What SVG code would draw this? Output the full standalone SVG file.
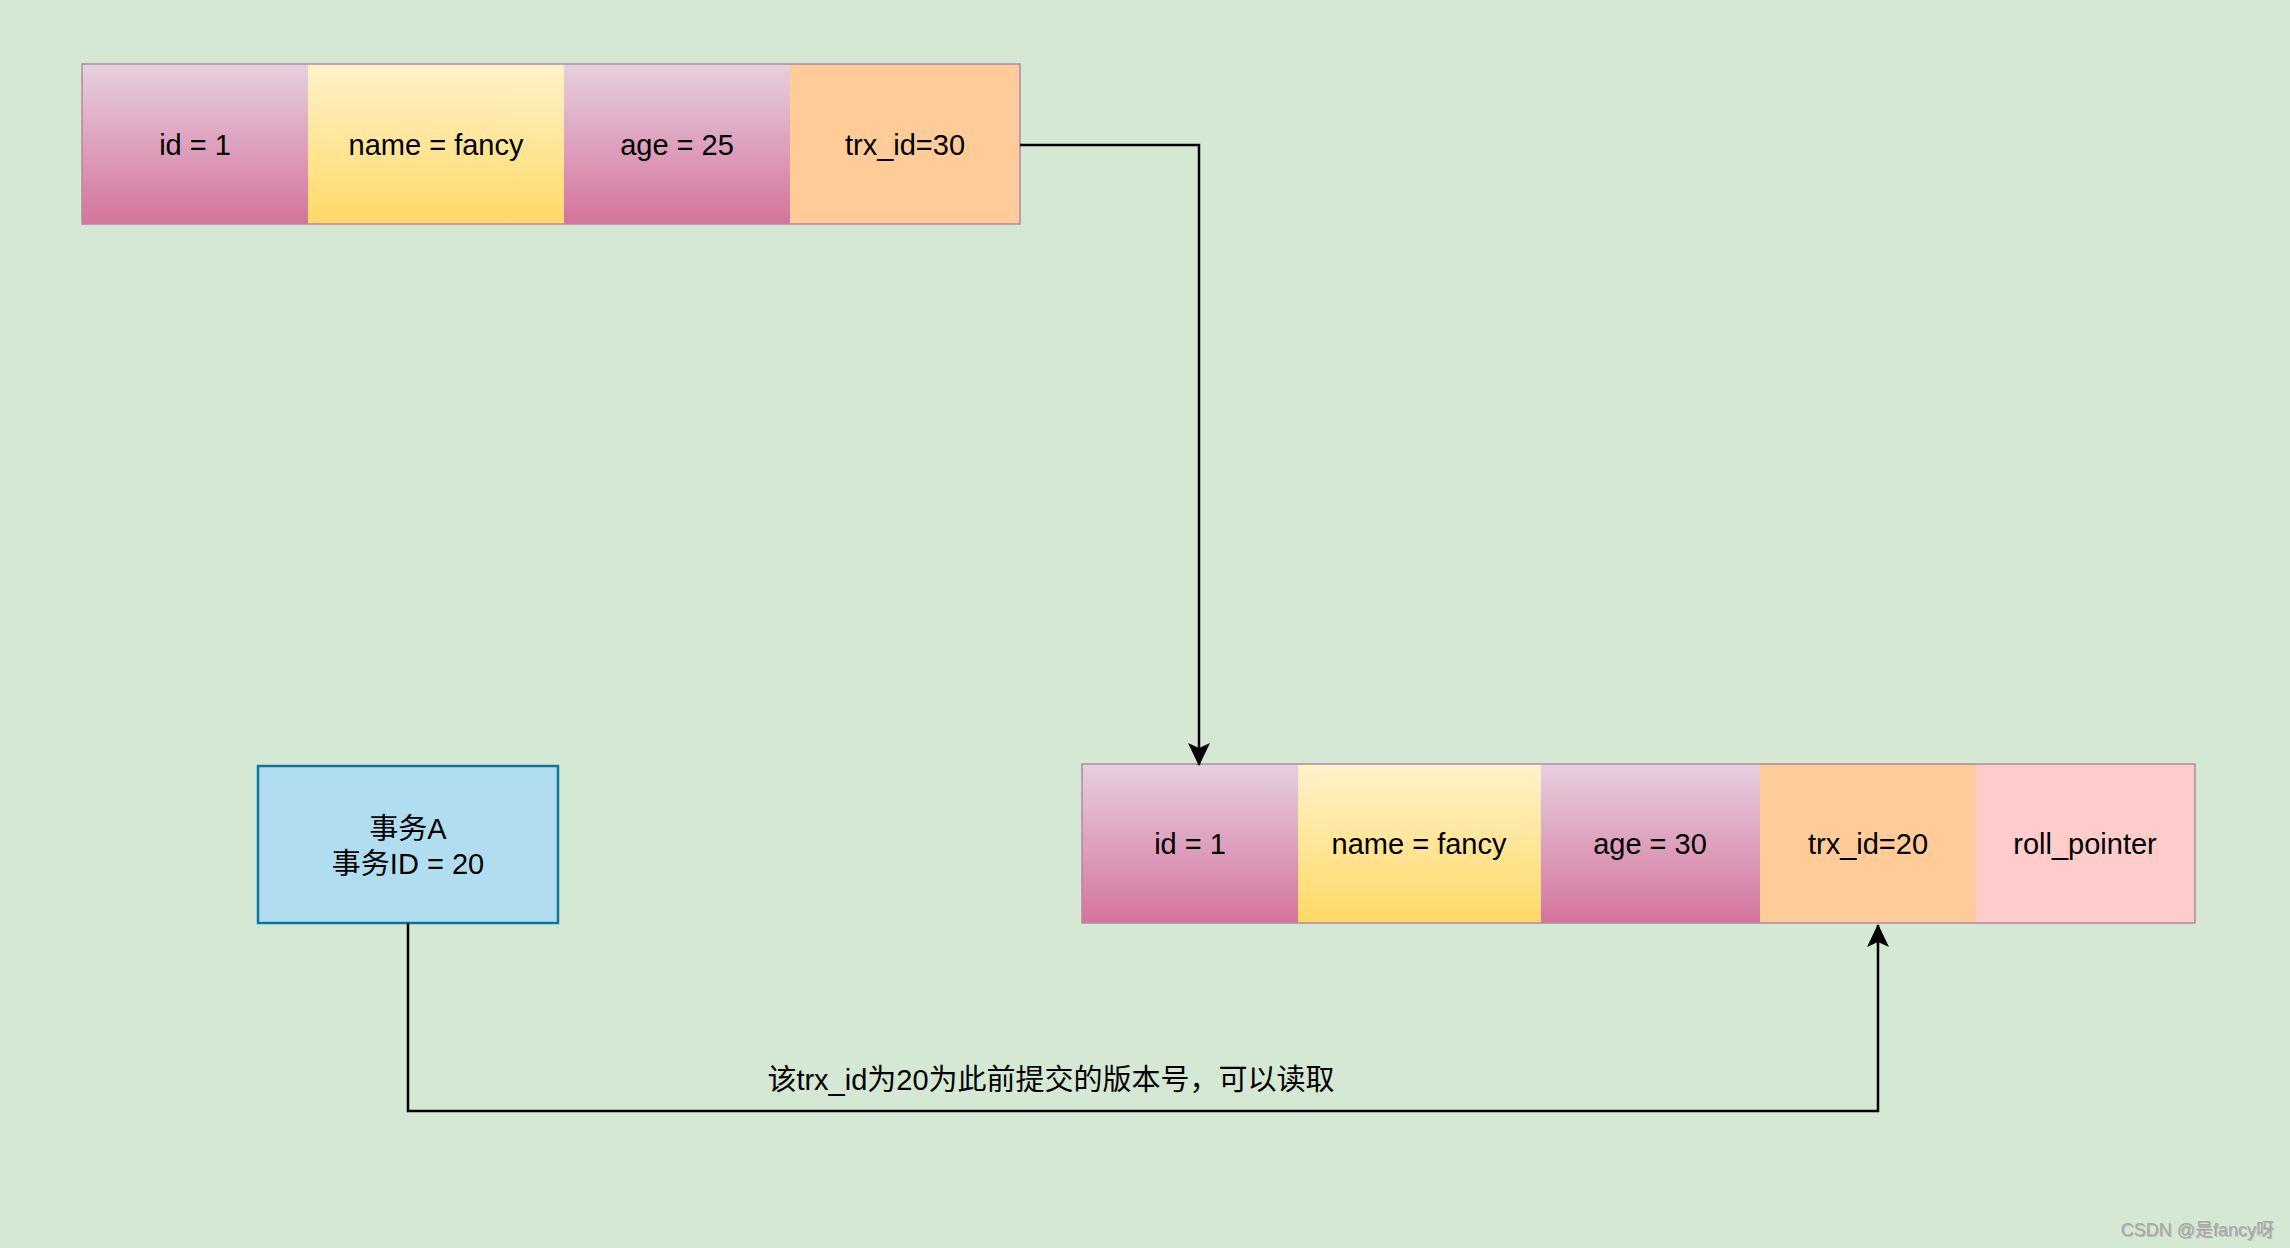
<svg xmlns="http://www.w3.org/2000/svg" width="2290" height="1248" viewBox="0 0 2290 1248">
<defs>
<linearGradient id="gPink" x1="0" y1="0" x2="0" y2="1"><stop offset="0" stop-color="#e6d0de"/><stop offset="1" stop-color="#d5739d"/></linearGradient>
<linearGradient id="gYellow" x1="0" y1="0" x2="0" y2="1"><stop offset="0" stop-color="#fff2cc"/><stop offset="1" stop-color="#ffd966"/></linearGradient>
<marker id="arr" markerUnits="userSpaceOnUse" markerWidth="24" markerHeight="22" viewBox="0 0 24 22" refX="22" refY="11" orient="auto">
<path d="M0,0 L23,11 L0,22 L5,11 Z" fill="#000"/>
</marker>
</defs>
<style>
.t{font-family:"Liberation Sans","Noto Sans CJK SC",Arial,sans-serif;font-size:29px;fill:#000;text-anchor:middle;dominant-baseline:central}
.pink{fill:url(#gPink)}
.yellow{fill:url(#gYellow)}
.orange{fill:#ffcc99}
.rose{fill:#ffcccc}
.frame{fill:none;stroke:#b08aa0;stroke-width:1.5}
.edge{fill:none;stroke:#000;stroke-width:2.5}
.wm{font-family:"Liberation Sans","Noto Sans CJK SC",sans-serif;font-size:18px;fill:#a8a8a8}
</style>
<rect x="0" y="0" width="2290" height="1248" fill="#d5e8d4"/>

<g id="row-top">
<g id="top-id"><rect class="pink" x="82" y="64" width="226" height="160"/><text class="t" x="195" y="145">id = 1</text></g>
<g id="top-name"><rect class="yellow" x="308" y="64" width="256" height="160"/><text class="t" x="436" y="145">name = fancy</text></g>
<g id="top-age"><rect class="pink" x="564" y="64" width="226" height="160"/><text class="t" x="677" y="145">age = 25</text></g>
<g id="top-trx"><rect class="orange" x="790" y="64" width="230" height="160"/><text class="t" x="905" y="145">trx_id=30</text></g>
<rect class="frame" x="82" y="64" width="938" height="160"/>
</g>

<g id="row-bottom">
<g id="bot-id"><rect class="pink" x="1082" y="764" width="216" height="159"/><text class="t" x="1190" y="844">id = 1</text></g>
<g id="bot-name"><rect class="yellow" x="1298" y="764" width="243" height="159"/><text class="t" x="1419" y="844">name = fancy</text></g>
<g id="bot-age"><rect class="pink" x="1541" y="764" width="219" height="159"/><text class="t" x="1650" y="844">age = 30</text></g>
<g id="bot-trx"><rect class="orange" x="1760" y="764" width="216" height="159"/><text class="t" x="1868" y="844">trx_id=20</text></g>
<g id="bot-roll"><rect class="rose" x="1976" y="764" width="219" height="159"/><text class="t" x="2085" y="844">roll_pointer</text></g>
<rect class="frame" x="1082" y="764" width="1113" height="159"/>
</g>

<g id="trx-a">
<rect x="258" y="766" width="300" height="157" fill="#b1ddf0" stroke="#10739e" stroke-width="2.5"/>
<text class="t" x="408" y="829">事务A</text>
<text class="t" x="408" y="864">事务ID = 20</text>
</g>

<g id="connectors">
<path class="edge" d="M1020,145 L1199,145 L1199,765" marker-end="url(#arr)"/>
<path class="edge" d="M408,923 L408,1111 L1878,1111 L1878,925" marker-end="url(#arr)"/>
<text class="t" x="1051" y="1080">该trx_id为20为此前提交的版本号，可以读取</text>
</g>

<text class="wm" x="2274" y="1236" text-anchor="end" fill="#ffffff" opacity="0.7" dx="1" dy="1">CSDN @是fancy呀</text>
<text class="wm" x="2274" y="1236" text-anchor="end">CSDN @是fancy呀</text>
</svg>
